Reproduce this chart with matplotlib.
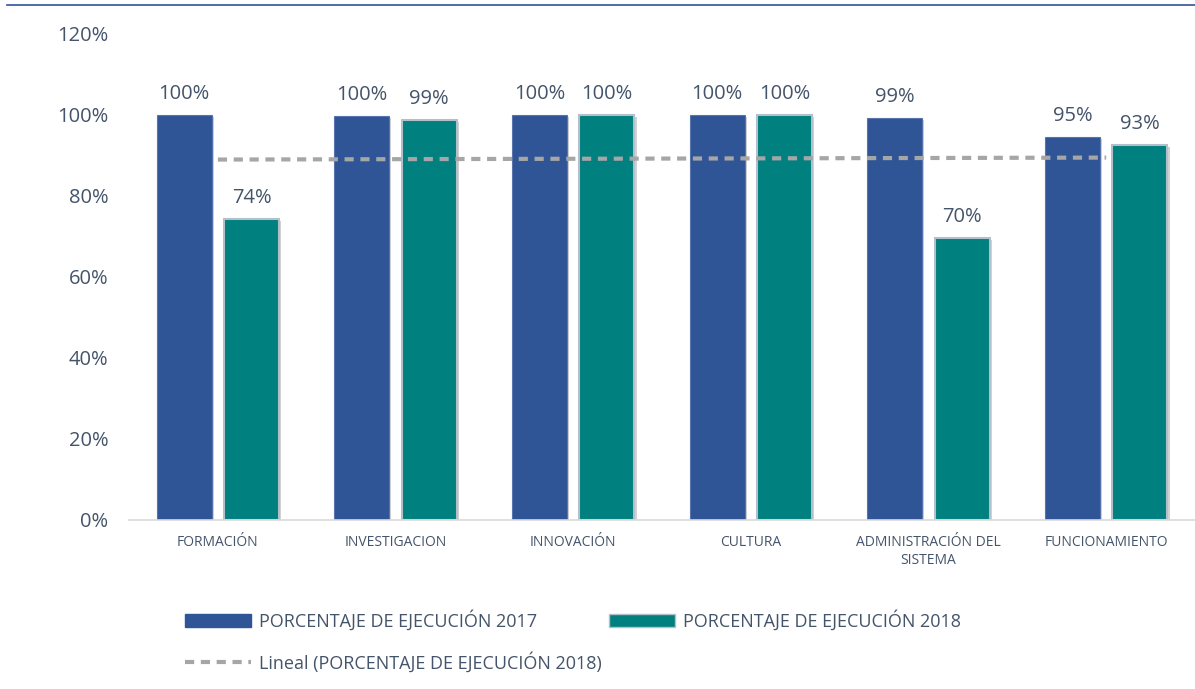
import matplotlib
matplotlib.use("Agg")
import matplotlib.pyplot as plt
import matplotlib.patheffects as pe
from matplotlib.lines import Line2D
from matplotlib.patches import Patch
import numpy as np

plt.rcParams['font.family'] = ['Open Sans', 'DejaVu Sans']

# data
categories = ['FORMACIÓN', 'INVESTIGACION', 'INNOVACIÓN', 'CULTURA',
              'ADMINISTRACIÓN DEL\nSISTEMA', 'FUNCIONAMIENTO']
ejec_2017 = [1.00, 0.998, 1.00, 1.00, 0.993, 0.946]
ejec_2018 = [0.744, 0.988, 1.00, 1.00, 0.696, 0.926]
y_ticks = [0, 0.2, 0.4, 0.6, 0.8, 1.0, 1.2]

label_2017 = 'PORCENTAJE DE EJECUCIÓN 2017'
label_2018 = 'PORCENTAJE DE EJECUCIÓN 2018'
label_trend = 'Lineal (PORCENTAJE DE EJECUCIÓN 2018)'

BLUE = '#2F5597'
TEAL = '#00807F'
GREY = '#A6A6A6'
TEXT = '#44546A'

fig = plt.figure(figsize=(11.95, 6.89), dpi=100)
ax = fig.add_axes([0.108, 0.2453, 0.892, 0.7054])

x = np.arange(len(categories))
w = 0.31
off = 0.19
shadow = [pe.SimplePatchShadow(offset=(1.5, -1.5), shadow_rgbFace='#7F7F7F', alpha=0.35), pe.Normal()]

b1 = ax.bar(x - off, ejec_2017, w, color=BLUE, edgecolor='#5874AC', linewidth=0.8, zorder=2)
b2 = ax.bar(x + off, ejec_2018, w, color=TEAL, edgecolor='#B3BFCB', linewidth=1.5, zorder=2)
for b in list(b1) + list(b2):
    b.set_path_effects(shadow)

# linear trend of the 2018 series
coef = np.polyfit(x, ejec_2018, 1)
ax.plot(x, np.polyval(coef, x), color=GREY, linestyle=(0, (2.2, 1.6)), linewidth=3, zorder=3)

for bars, vals in ((b1, ejec_2017), (b2, ejec_2018)):
    for b, v in zip(bars, vals):
        ax.annotate(f'{v:.0%}', (b.get_x() + b.get_width() / 2, v), xytext=(0, 8),
                    textcoords='offset points', ha='center', va='bottom',
                    fontsize=14.5, color=TEXT)

ax.set_xlim(-0.5, len(categories) - 0.5)
ax.set_ylim(0, 1.2)
ax.set_yticks(y_ticks)
ax.set_yticklabels([f'{t:.0%}' for t in y_ticks], fontsize=14.5, color=TEXT)
ax.set_xticks(x)
ax.set_xticklabels(categories, fontsize=10, color=TEXT, linespacing=1.25)
ax.tick_params(axis='both', length=0)
ax.tick_params(axis='y', pad=15)
ax.tick_params(axis='x', pad=11)
for s in ('top', 'right', 'left'):
    ax.spines[s].set_visible(False)
ax.spines['bottom'].set_color('#D9D9D9')
ax.spines['bottom'].set_linewidth(1.2)

# top rule
fig.add_artist(Line2D([7 / 1195, 1], [1 - 5 / 689, 1 - 5 / 689], color='#2F5597', linewidth=1.2))

handles = [Patch(facecolor=BLUE, edgecolor=BLUE),
           Line2D([], [], color=GREY, linestyle=(0, (2.2, 1.6)), linewidth=3),
           Patch(facecolor=TEAL, edgecolor='#B3BFCB')]
labels = [label_2017, label_trend, label_2018]
fig.legend(handles, labels, ncol=2, loc='upper left', bbox_to_anchor=(0.141, 0.138),
           frameon=False, fontsize=13, labelcolor=TEXT, handlelength=3.65, handleheight=0.72,
           handletextpad=0.45, columnspacing=0.4, labelspacing=1.15)

fig.savefig('out.png', dpi=100)
